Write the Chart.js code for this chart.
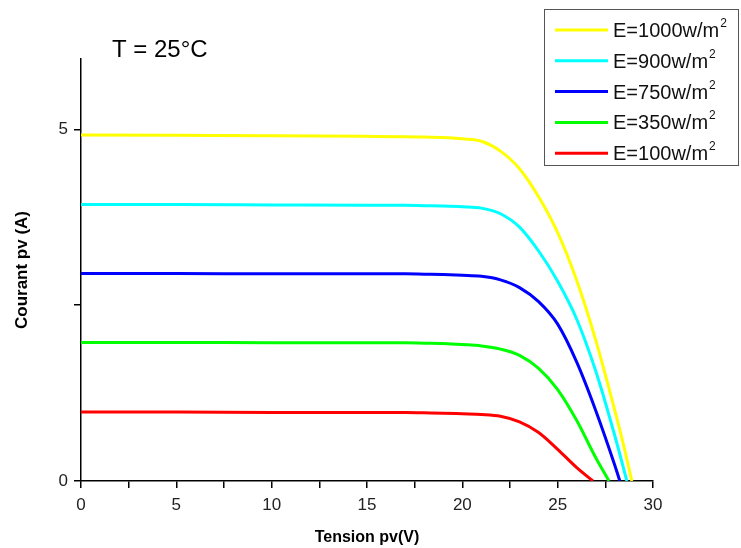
<!DOCTYPE html>
<html>
<head>
<meta charset="utf-8">
<script src="https://cdn.jsdelivr.net/npm/chart.js@4.4.1/dist/chart.umd.min.js"></script>
<style>
    html, body { margin: 0; padding: 0; background: #fff; }
</style>
</head>
<body>
<canvas id="ivChart" width="741" height="548"></canvas>
<script>
// irradiance labels (the "2" of m² is drawn as exponent by the legend plugin)
const seriesLabels = ['E=1000w/m', 'E=900w/m', 'E=750w/m', 'E=350w/m', 'E=100w/m'];
const seriesColors = ['#ffff00', '#00ffff', '#0000ff', '#00ff00', '#ff0000'];

// tension pv (V) / courant pv (A)
const voltage1000 = [0, 5, 10, 15, 17, 18, 19, 20, 21, 22, 23, 24, 25, 26, 27, 28, 28.5, 28.89];
const current1000 = [4.92, 4.915, 4.91, 4.90, 4.895, 4.89, 4.885, 4.865, 4.83, 4.69, 4.44, 4.04, 3.53, 2.85, 2.00, 1.00, 0.46, 0];

const voltage900 = [0, 5, 10, 15, 17, 18, 19, 20, 21, 22, 23, 24, 25, 26, 27, 28, 28.63];
const current900 = [3.93, 3.93, 3.925, 3.92, 3.92, 3.915, 3.91, 3.90, 3.88, 3.80, 3.61, 3.27, 2.84, 2.30, 1.56, 0.64, 0];

const voltage750 = [0, 5, 10, 15, 17, 18, 19, 20, 21, 22, 23, 24, 25, 26, 27, 28, 28.26];
const current750 = [2.95, 2.95, 2.945, 2.945, 2.945, 2.94, 2.935, 2.925, 2.91, 2.86, 2.75, 2.55, 2.23, 1.69, 1.00, 0.22, 0];

const voltage350 = [0, 5, 10, 15, 17, 18, 19, 20, 21, 22, 23, 24, 25, 26, 27, 27.69];
const current350 = [1.97, 1.97, 1.965, 1.965, 1.965, 1.96, 1.955, 1.94, 1.92, 1.875, 1.785, 1.60, 1.30, 0.86, 0.33, 0];

const voltage100 = [0, 5, 10, 15, 17, 18, 19, 20, 21, 22, 23, 24, 25, 26, 26.85];
const current100 = [0.98, 0.98, 0.975, 0.975, 0.975, 0.97, 0.965, 0.955, 0.945, 0.92, 0.84, 0.69, 0.45, 0.19, 0];

const xTicks = [0, 5, 10, 15, 20, 25, 30];
const yTicks = [0, 5];
const temperatureLabel = 'T = 25°C';

const voltages = [voltage1000, voltage900, voltage750, voltage350, voltage100];
const currents = [current1000, current900, current750, current350, current100];

const FONT = "'Liberation Sans', Arial, sans-serif";

const datasets = seriesLabels.map((label, i) => ({
    label: label,
    data: voltages[i].map((v, k) => ({ x: v, y: currents[i][k] })),
    borderColor: seriesColors[i],
    backgroundColor: seriesColors[i],
    borderWidth: 3,
    pointRadius: 0,
    cubicInterpolationMode: 'monotone',
    fill: false
}));

// legend box in the top right corner, with m² written as exponent
const legendBox = {
    id: 'legendBox',
    afterDraw(chart) {
        const ctx = chart.ctx;
        ctx.save();
        ctx.strokeStyle = '#555';
        ctx.lineWidth = 1;
        ctx.strokeRect(544.5, 9.5, 194, 156);
        chart.data.datasets.forEach((ds, i) => {
            const y = 30 + i * 30.8;
            ctx.strokeStyle = ds.borderColor;
            ctx.lineWidth = 3;
            ctx.beginPath();
            ctx.moveTo(555, y);
            ctx.lineTo(608, y);
            ctx.stroke();
            ctx.fillStyle = '#111';
            ctx.textBaseline = 'alphabetic';
            ctx.textAlign = 'left';
            ctx.font = '20px ' + FONT;
            ctx.fillText(ds.label, 613, y + 7);
            const w = ctx.measureText(ds.label).width;
            ctx.font = '12px ' + FONT;
            ctx.fillText('2', 613 + w + 1, y - 3);
        });
        ctx.fillStyle = '#000';
        ctx.font = '24px ' + FONT;
        ctx.textBaseline = 'alphabetic';
        ctx.fillText(temperatureLabel, 112, 57);
        ctx.restore();
    }
};

new Chart(document.getElementById('ivChart'), {
    type: 'line',
    data: { datasets: datasets },
    options: {
        responsive: false,
        animation: false,
        layout: { padding: { top: 59, right: 88, bottom: 1, left: 0 } },
        plugins: {
            legend: { display: false },
            tooltip: { enabled: false }
        },
        scales: {
            x: {
                type: 'linear',
                min: 0,
                max: 30,
                afterFit: (scale) => { scale.height = 66; },
                afterBuildTicks: (scale) => {
                    const t = [];
                    for (let v = 0; v <= 30; v += 2.5) t.push({ value: v });
                    scale.ticks = t;
                },
                ticks: {
                    color: '#222',
                    padding: 7,
                    maxRotation: 0,
                    font: { family: FONT, size: 17 },
                    callback: (v) => xTicks.includes(v) ? String(v) : ''
                },
                grid: { drawOnChartArea: false, drawTicks: true, tickLength: 7, color: '#000', lineWidth: 1.5 },
                border: { color: '#000', width: 1.5 },
                title: {
                    display: true,
                    text: 'Tension pv(V)',
                    color: '#000',
                    padding: { top: 0, bottom: 0 },
                    font: { family: FONT, size: 16, weight: 'bold' }
                }
            },
            y: {
                type: 'linear',
                min: 0,
                max: 6,
                afterFit: (scale) => { scale.width = 81; },
                afterBuildTicks: (scale) => {
                    scale.ticks = [0, 2.5, 5].map(v => ({ value: v }));
                },
                ticks: {
                    color: '#222',
                    padding: 6,
                    font: { family: FONT, size: 17 },
                    callback: (v) => yTicks.includes(v) ? String(v) : ''
                },
                grid: { drawOnChartArea: false, drawTicks: true, tickLength: 7, color: '#000', lineWidth: 1.5 },
                border: { color: '#000', width: 1.5 },
                title: {
                    display: true,
                    text: 'Courant pv (A)',
                    color: '#000',
                    padding: { top: 12, bottom: 0 },
                    font: { family: FONT, size: 17, weight: 'bold' }
                }
            }
        }
    },
    plugins: [legendBox]
});
</script>
</body>
</html>
